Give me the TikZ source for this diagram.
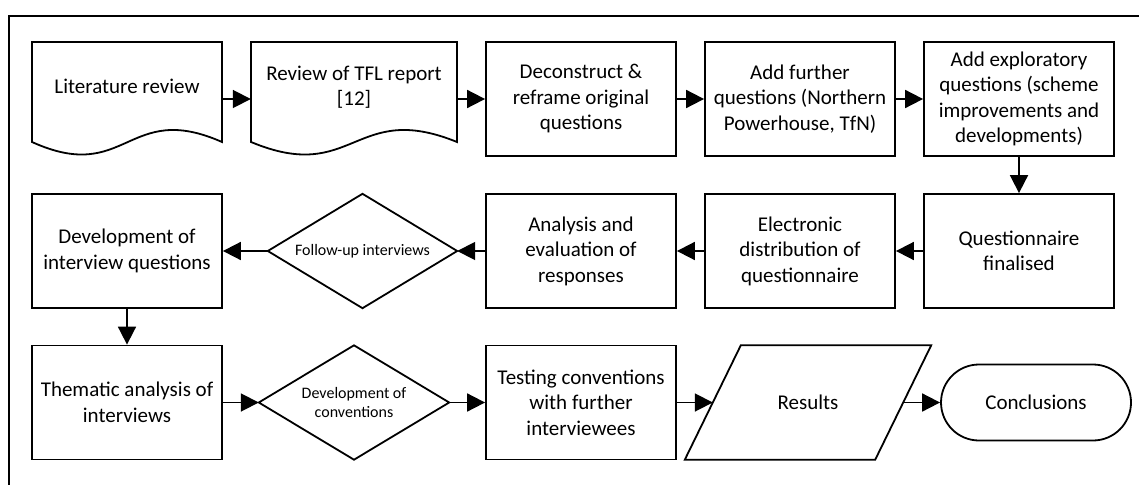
\documentclass[tikz,border=0pt]{standalone}
\usepackage{fontspec}
\setmainfont{Carlito}
\usetikzlibrary{arrows.meta}
\begin{document}
\begin{tikzpicture}[x=1pt,y=-1pt,
  box/.style={draw, line width=1.8pt, minimum width=190pt, minimum height=114pt, align=center, inner sep=0pt, font=\fontsize{21}{25.5}\selectfont},
  ghost/.style={draw=none, minimum width=190pt, minimum height=114pt, align=center, inner sep=0pt},
  txt/.style={align=center, inner sep=0pt, font=\fontsize{21}{25.5}\selectfont},
  small/.style={font=\fontsize{16}{19}\selectfont},
  arr/.style={-{Triangle[length=18pt,width=18pt]}, line width=1.8pt},
  shp/.style={line width=1.8pt, line join=miter}
]
\useasboundingbox (0,0) rectangle (1139,484);
% outer frame (clipped on right and bottom)
\draw[line width=2pt] (9,490) -- (9,16) -- (1145,16);

% ---- Row 1 ----
\node[ghost] (lit) at (127,99) {};
\draw[shp] (32,42) -- (222,42) -- (222,142) .. controls (127,100) and (127,185) .. (32,142) -- cycle;
\node[txt] (littxt) at (127,86) {Literature review};

\node[ghost, minimum width=206pt] (tfl) at (354,99) {};
\draw[shp] (251,42) -- (457,42) -- (457,142) .. controls (354,100) and (354,185) .. (251,142) -- cycle;
\node[txt] (tfltxt) at (354,87) {Review of TFL report\\{[12]}};

\node[box] (dec) at (581,99) {Deconstruct \&\\reframe original\\questions};
\node[box] (fur) at (800,99) {Add further\\questions (Northern\\Powerhouse, TfN)};
\node[box] (exp) at (1019,99) {Add exploratory\\questions (scheme\\improvements and\\developments)};

% ---- Row 2 ----
\node[box] (que) at (1019,251) {Questionnaire\\finalised};
\node[box] (ele) at (800,251) {Electronic\\distribution of\\questionnaire};
\node[box] (ana) at (581,251) {Analysis and\\evaluation of\\responses};
\node[ghost, small, minimum width=189pt] (fup) at (362.5,251) {Follow-up interviews};
\draw[shp] (fup.north) -- (fup.east) -- (fup.south) -- (fup.west) -- cycle;
\node[box] (dev) at (127,251) {Development of\\interview questions};

% ---- Row 3 ----
\node[box] (the) at (127,402.5) {Thematic analysis of\\interviews};
\node[ghost, small] (dco) at (354,402.5) {Development of\\conventions};
\draw[shp] (dco.north) -- (dco.east) -- (dco.south) -- (dco.west) -- cycle;
\node[box] (tes) at (581,402.5) {Testing conventions\\with further\\interviewees};
\node[ghost, txt, minimum width=190pt, minimum height=114pt] (res) at (808,402.5) {Results};
\draw[shp] ([xshift=28pt]res.north west) -- ([xshift=28pt]res.north east) -- ([xshift=-28pt]res.south east) -- ([xshift=-28pt]res.south west) -- cycle;
\node[box, minimum height=76pt, rounded corners=38pt] (con) at (1036,402.5) {Conclusions};

% ---- connectors ----
\draw[arr] (lit.east) -- (tfl.west);
\draw[arr] (tfl.east) -- (dec.west);
\draw[arr] (dec.east) -- (fur.west);
\draw[arr] (fur.east) -- (exp.west);
\draw[arr] (exp.south) -- (que.north);
\draw[arr] (que.west) -- (ele.east);
\draw[arr] (ele.west) -- (ana.east);
\draw[arr] (ana.west) -- (fup.east);
\draw[arr] (fup.west) -- (dev.east);
\draw[arr] (dev.south) -- (the.north);
\draw[arr] (the.east) -- (dco.west);
\draw[arr] (dco.east) -- (tes.west);
\draw[arr] (tes.east) -- (res.west);
\draw[arr] (res.east) -- (con.west);
\end{tikzpicture}
\end{document}
